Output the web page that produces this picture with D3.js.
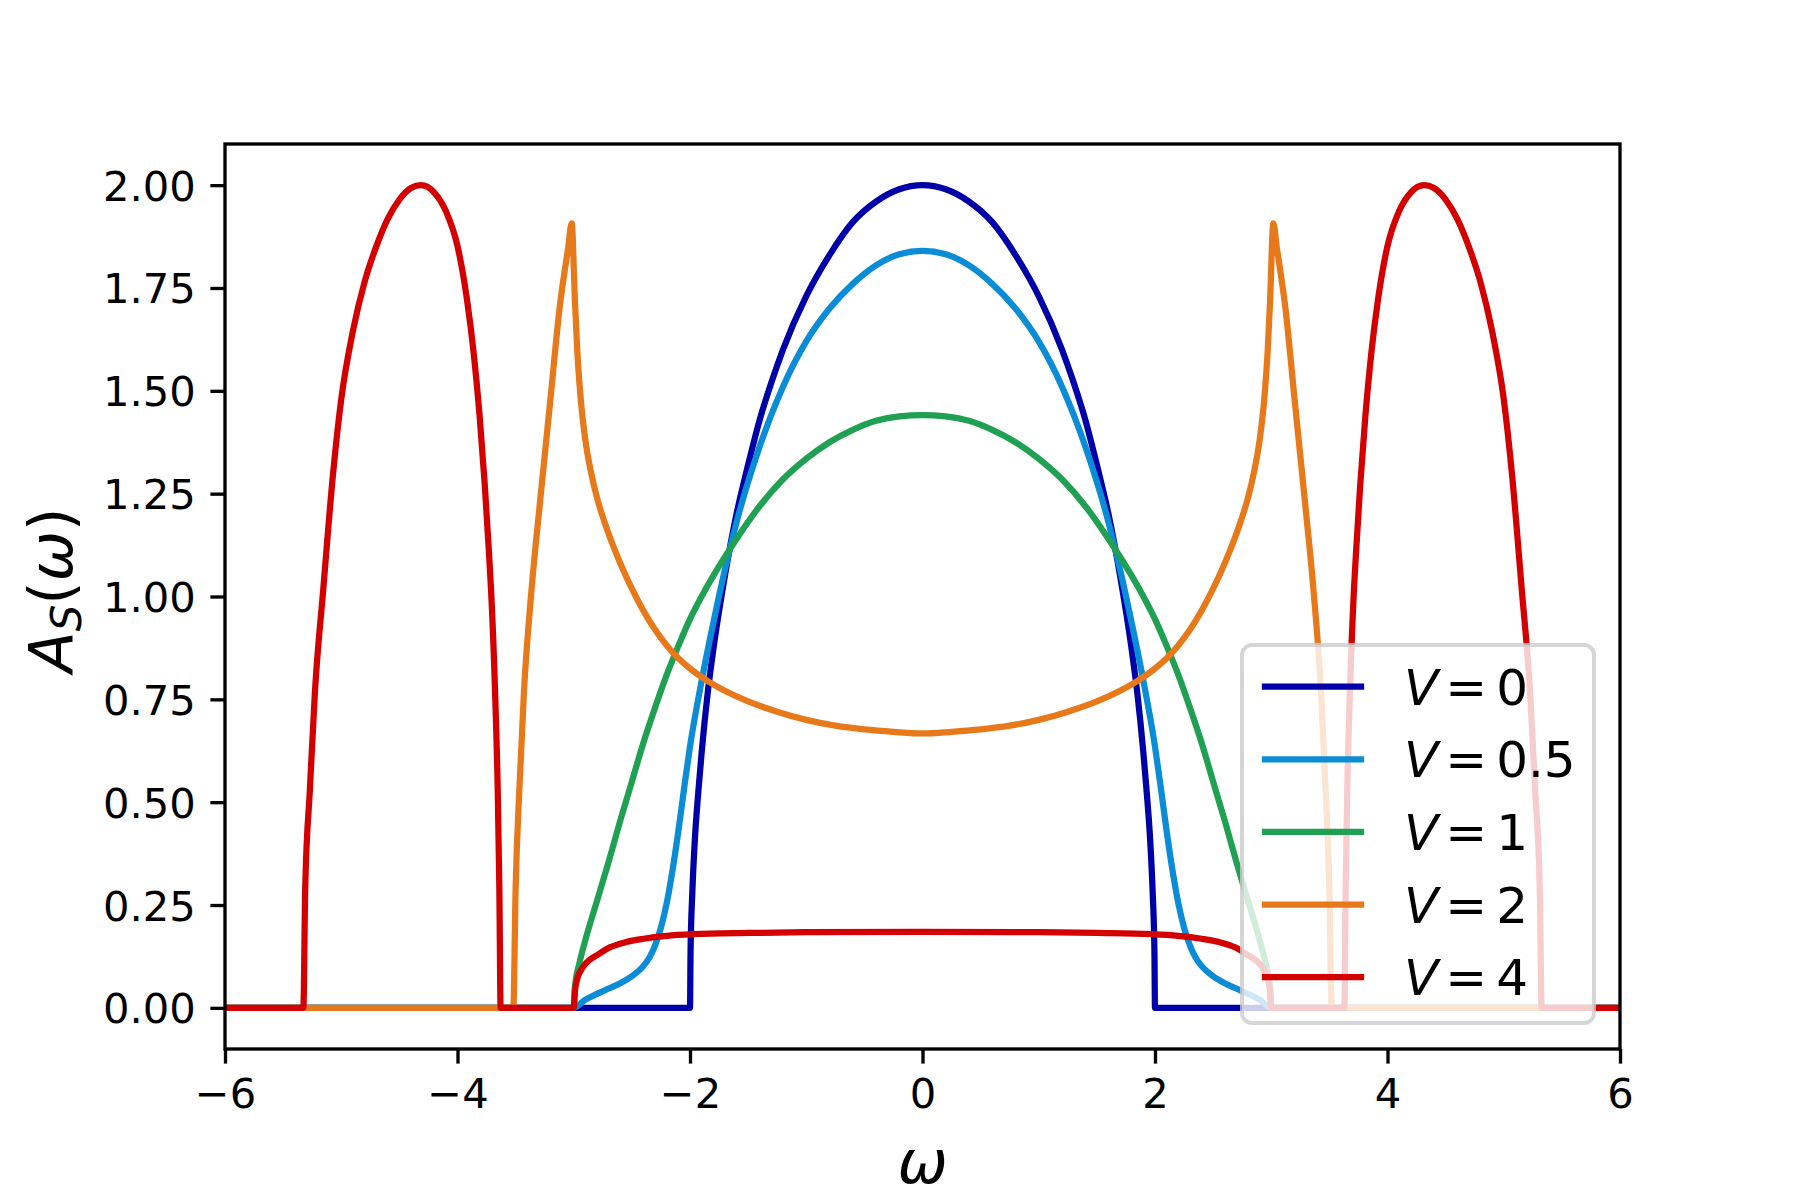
<!DOCTYPE html>
<html>
<head>
<meta charset="utf-8">
<script src="https://cdn.jsdelivr.net/npm/d3@7"></script>
<style>
  body { margin: 0; background: #fff; }
  svg { display: block; }
  text { font-family: "DejaVu Sans", sans-serif; fill: #000; }
</style>
</head>
<body>
<svg id="chart"></svg>
<script>
// values, omega and A_S(omega) for each V
var omegaV0 = [-6, -2.0, -1.995, -1.98, -1.96, -1.93, -1.9, -1.85, -1.8, -1.7, -1.6, -1.5, -1.4, -1.3, -1.2, -1.0, -0.8, -0.6, -0.4, -0.2, 0,
  0.2, 0.4, 0.6, 0.8, 1.0, 1.2, 1.3, 1.4, 1.5, 1.6, 1.7, 1.8, 1.85, 1.9, 1.93, 1.96, 1.98, 1.995, 2.0, 6];
var aV0 = [0, 0, 0.14, 0.28, 0.40, 0.52, 0.62, 0.76, 0.87, 1.05, 1.20, 1.32, 1.43, 1.52, 1.60, 1.73, 1.83, 1.91, 1.96, 1.99, 2.00,
  1.99, 1.96, 1.91, 1.83, 1.73, 1.60, 1.52, 1.43, 1.32, 1.20, 1.05, 0.87, 0.76, 0.62, 0.52, 0.40, 0.28, 0.14, 0, 0];

var omegaV05 = [-6, -3.0, -2.9, -2.8, -2.7, -2.6, -2.5, -2.4, -2.35, -2.3, -2.25, -2.2, -2.15, -2.1, -2.05, -2.0, -1.9, -1.8, -1.7, -1.6, -1.4, -1.2, -1.0, -0.8, -0.6, -0.4, -0.2, 0,
  0.2, 0.4, 0.6, 0.8, 1.0, 1.2, 1.4, 1.6, 1.7, 1.8, 1.9, 2.0, 2.05, 2.1, 2.15, 2.2, 2.25, 2.3, 2.35, 2.4, 2.5, 2.6, 2.7, 2.8, 2.9, 3.0, 6];
var aV05 = [0, 0, 0.02, 0.034, 0.047, 0.06, 0.077, 0.102, 0.122, 0.152, 0.195, 0.255, 0.335, 0.43, 0.535, 0.635, 0.795, 0.935, 1.065, 1.18, 1.365, 1.51, 1.62, 1.70, 1.76, 1.805, 1.832, 1.84,
  1.832, 1.805, 1.76, 1.70, 1.62, 1.51, 1.365, 1.18, 1.065, 0.935, 0.795, 0.635, 0.535, 0.43, 0.335, 0.255, 0.195, 0.152, 0.122, 0.102, 0.077, 0.06, 0.047, 0.034, 0.02, 0, 0];

var omegaV1 = [-6, -3.0, -2.99, -2.95, -2.9, -2.8, -2.7, -2.6, -2.5, -2.4, -2.3, -2.2, -2.1, -2.0, -1.9, -1.8, -1.6, -1.4, -1.2, -1.0, -0.8, -0.6, -0.4, -0.2, 0,
  0.2, 0.4, 0.6, 0.8, 1.0, 1.2, 1.4, 1.6, 1.8, 1.9, 2.0, 2.1, 2.2, 2.3, 2.4, 2.5, 2.6, 2.7, 2.8, 2.9, 2.95, 2.99, 3.0, 6];
var aV1 = [0, 0, 0.05, 0.11, 0.165, 0.26, 0.355, 0.455, 0.55, 0.645, 0.73, 0.81, 0.88, 0.945, 1.0, 1.05, 1.14, 1.22, 1.285, 1.335, 1.375, 1.405, 1.427, 1.438, 1.441,
  1.438, 1.427, 1.405, 1.375, 1.335, 1.285, 1.22, 1.14, 1.05, 1.0, 0.945, 0.88, 0.81, 0.73, 0.645, 0.55, 0.455, 0.355, 0.26, 0.165, 0.11, 0.05, 0, 0];

var omegaV2 = [-6, -3.52, -3.50, -3.468, -3.428, -3.362, -3.29, -3.204, -3.118, -3.047, -3.018, -2.99, -2.97, -2.94, -2.90, -2.85, -2.80, -2.74, -2.67, -2.60, -2.50, -2.40, -2.30, -2.20, -2.10, -2.0, -1.85, -1.7, -1.5, -1.25, -1.0, -0.75, -0.5, -0.25, 0,
  0.25, 0.5, 0.75, 1.0, 1.25, 1.5, 1.7, 1.85, 2.0, 2.10, 2.20, 2.30, 2.40, 2.50, 2.60, 2.67, 2.74, 2.80, 2.85, 2.90, 2.94, 2.97, 2.99, 3.018, 3.047, 3.118, 3.204, 3.29, 3.362, 3.428, 3.468, 3.50, 3.52, 6];
var aV2 = [0, 0, 0.29, 0.53, 0.77, 1.02, 1.23, 1.47, 1.71, 1.85, 1.907, 1.72, 1.60, 1.48, 1.38, 1.30, 1.24, 1.185, 1.13, 1.081, 1.019, 0.965, 0.919, 0.881, 0.850, 0.825, 0.795, 0.771, 0.745, 0.72, 0.70, 0.686, 0.677, 0.671, 0.667,
  0.671, 0.677, 0.686, 0.70, 0.72, 0.745, 0.771, 0.795, 0.825, 0.850, 0.881, 0.919, 0.965, 1.019, 1.081, 1.13, 1.185, 1.24, 1.30, 1.38, 1.48, 1.60, 1.72, 1.907, 1.85, 1.71, 1.47, 1.23, 1.02, 0.77, 0.53, 0.29, 0, 0];

var omegaV4 = [-6, -5.326, -5.31, -5.27, -5.226, -5.154, -5.07, -5.0, -4.9, -4.8, -4.7, -4.6, -4.5, -4.4, -4.314, -4.2, -4.1, -4.0, -3.92, -3.86, -3.81, -3.765, -3.73, -3.712, -3.677, -3.654, -3.64, -3.629,
  -3.0, -2.99, -2.97, -2.93, -2.89, -2.80, -2.69, -2.55, -2.40, -2.2, -1.97, -1.5, -1.0, 0, 1.0, 1.5, 1.97, 2.2, 2.40, 2.55, 2.69, 2.80, 2.89, 2.93, 2.97, 2.99, 3.0,
  3.629, 3.64, 3.654, 3.677, 3.712, 3.73, 3.765, 3.81, 3.86, 3.92, 4.0, 4.1, 4.2, 4.314, 4.4, 4.5, 4.6, 4.7, 4.8, 4.9, 5.0, 5.07, 5.154, 5.226, 5.27, 5.31, 5.326, 6];
var aV4 = [0, 0, 0.29, 0.53, 0.77, 1.02, 1.30, 1.48, 1.645, 1.764, 1.85, 1.918, 1.965, 1.993, 2.0, 1.982, 1.937, 1.852, 1.725, 1.59, 1.44, 1.27, 1.11, 1.02, 0.77, 0.53, 0.29, 0,
  0, 0.04, 0.07, 0.095, 0.11, 0.128, 0.147, 0.16, 0.168, 0.175, 0.179, 0.182, 0.184, 0.185, 0.184, 0.182, 0.179, 0.175, 0.168, 0.16, 0.147, 0.128, 0.11, 0.095, 0.07, 0.04, 0,
  0, 0.29, 0.53, 0.77, 1.02, 1.11, 1.27, 1.44, 1.59, 1.725, 1.852, 1.937, 1.982, 2.0, 1.993, 1.965, 1.918, 1.85, 1.764, 1.645, 1.48, 1.30, 1.02, 0.77, 0.53, 0.29, 0, 0];

var vLabels = ['0', '0.5', '1', '2', '4'];
var vColors = ['#0000a8', '#0a8cd6', '#1fa052', '#e8791a', '#d40000'];
var xTicks = [-6, -4, -2, 0, 2, 4, 6];
var yTicks = [0, 0.25, 0.5, 0.75, 1.0, 1.25, 1.5, 1.75, 2.0];

var series = [
  { omega: omegaV0, a: aV0 },
  { omega: omegaV05, a: aV05 },
  { omega: omegaV1, a: aV1 },
  { omega: omegaV2, a: aV2 },
  { omega: omegaV4, a: aV4 }
];

var vWidth = 1800, vHeight = 1200;
var m = { left: 225, right: 1620, top: 144, bottom: 1049 };
var lw = 6.25;      // 1.5pt at 300dpi
var tickFs = 41.67; // 10pt

var svg = d3.select('#chart')
    .attr('width', vWidth)
    .attr('height', vHeight);

var x = d3.scaleLinear().domain([-6, 6]).range([m.left, m.right]);
var y = d3.scaleLinear().domain([-0.1, 2.1]).range([m.bottom, m.top]);

svg.append('clipPath').attr('id', 'clip')
  .append('rect')
    .attr('x', m.left).attr('y', m.top)
    .attr('width', m.right - m.left).attr('height', m.bottom - m.top);

var vLine = d3.line()
    .x(function (d) { return x(d[0]); })
    .y(function (d) { return y(d[1]); })
    .curve(d3.curveMonotoneX);

svg.append('g').attr('clip-path', 'url(#clip)')
  .selectAll('path')
  .data(series)
  .enter()
  .append('path')
    .attr('d', function (s) { return vLine(s.omega.map(function (w, i) { return [w, s.a[i]]; })); })
    .attr('fill', 'none')
    .attr('stroke', function (s, i) { return vColors[i]; })
    .attr('stroke-width', lw)
    .attr('stroke-linejoin', 'round')
    .attr('stroke-linecap', 'square');

// spines
svg.append('rect')
    .attr('x', m.left).attr('y', m.top)
    .attr('width', m.right - m.left).attr('height', m.bottom - m.top)
    .attr('fill', 'none').attr('stroke', '#000').attr('stroke-width', 3.33);

var minus = function (d) { return d < 0 ? '\u2212' + Math.abs(d) : String(d); };

var gx = svg.append('g')
    .attr('transform', 'translate(0,' + m.bottom + ')')
    .call(d3.axisBottom(x).tickValues(xTicks).tickFormat(minus)
      .tickSize(14.6).tickPadding(14.6).tickSizeOuter(0));

var gy = svg.append('g')
    .attr('transform', 'translate(' + m.left + ',0)')
    .call(d3.axisLeft(y).tickValues(yTicks).tickFormat(d3.format('.2f'))
      .tickSize(14.6).tickPadding(14.6).tickSizeOuter(0));

[gx, gy].forEach(function (g) {
  g.select('.domain').remove();
  g.selectAll('.tick line').attr('stroke', '#000').attr('stroke-width', 3.33);
  g.selectAll('.tick text')
    .attr('font-family', '"DejaVu Sans", sans-serif')
    .attr('font-size', tickFs)
    .attr('fill', '#000');
});
gy.selectAll('.tick text').attr('dy', '0.36em');

// axis labels
svg.append('text')
    .attr('x', (m.left + m.right) / 2).attr('y', 1183)
    .attr('text-anchor', 'middle')
    .attr('font-size', 60).attr('font-style', 'italic')
    .text('\u03c9');

var ylab = svg.append('text')
    .attr('transform', 'translate(72,590) rotate(-90)')
    .attr('text-anchor', 'middle')
    .attr('font-size', 60);
ylab.append('tspan').attr('font-style', 'italic').text('A');
ylab.append('tspan').attr('font-style', 'italic').attr('font-size', 42).attr('dy', 9).text('S');
ylab.append('tspan').attr('dy', -9).text('(');
ylab.append('tspan').attr('font-style', 'italic').text('\u03c9');
ylab.append('tspan').text(')');

// legend, lower right
var lg = svg.append('g');
lg.append('rect')
    .attr('x', 1242).attr('y', 645).attr('width', 352).attr('height', 378)
    .attr('rx', 10).attr('ry', 10)
    .attr('fill', '#fff').attr('fill-opacity', 0.8)
    .attr('stroke', '#ccc').attr('stroke-opacity', 0.8).attr('stroke-width', 4);

var rows = lg.selectAll('g.row')
  .data(vLabels)
  .enter()
  .append('g')
    .attr('transform', function (d, i) { return 'translate(0,' + (686.7 + i * 72.6) + ')'; });

rows.append('line')
    .attr('x1', 1265).attr('x2', 1361)
    .attr('stroke', function (d, i) { return vColors[i]; })
    .attr('stroke-width', lw)
    .attr('stroke-linecap', 'square');

var rt = rows.append('text')
    .attr('x', 1404).attr('y', 18)
    .attr('font-size', 50);
rt.append('tspan').attr('font-style', 'italic').text('V');
rt.append('tspan').attr('dx', 7).text('=');
rt.append('tspan').attr('dx', 9).text(function (d) { return d; });
</script>
</body>
</html>
